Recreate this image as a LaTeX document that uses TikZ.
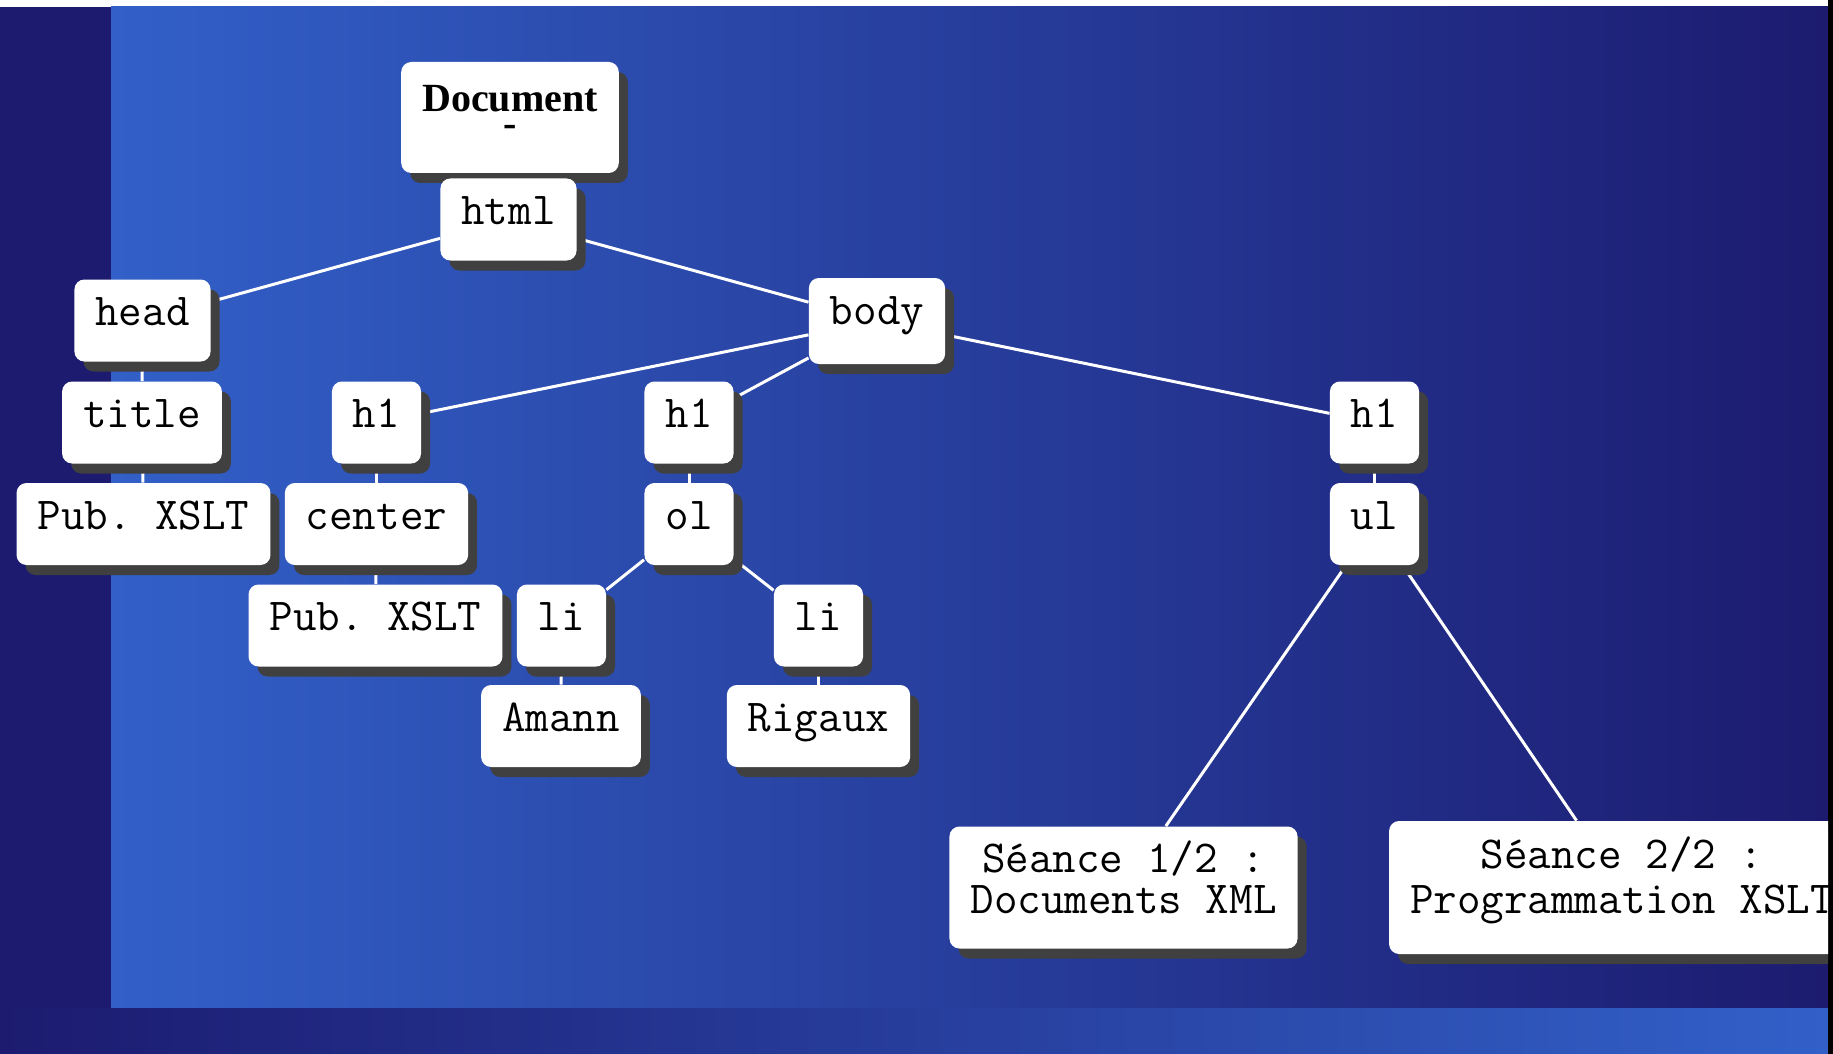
\documentclass[tikz,border=0pt]{standalone}
\usepackage{fontspec}
\newfontfamily\docfont{Liberation Serif}
\usetikzlibrary{shadows}

\definecolor{slideblue}{RGB}{50,96,200}
\definecolor{slidenavy}{RGB}{28,27,112}
\definecolor{shadowgray}{RGB}{64,64,64}

\pgfdeclarelayer{panel}
\pgfdeclarelayer{wires}
\pgfsetlayers{panel,wires,main}

\newcommand{\tagfont}{\ttfamily\fontsize{22.86pt}{21pt}\selectfont\frenchspacing}

\tikzset{
  tag/.style={fill=white, rounded corners=5pt, inner xsep=10.5pt, inner ysep=5pt,
    text height=18pt, text depth=13pt, font=\tagfont,
    drop shadow={shadow xshift=4.5pt, shadow yshift=-5pt, fill=shadowgray, opacity=1}},
  wire/.style={draw=white, line width=1.5pt}
}

\begin{document}
\begin{tikzpicture}[x=0.5pt,y=-0.5pt]

  \useasboundingbox (0,0) rectangle (1833,1054);

  % Vertical positions of the tree levels
  \pgfmathsetmacro{\rowone}{422.5}
  \pgfmathsetmacro{\rowtwo}{524}
  \pgfmathsetmacro{\rowthree}{625.5}
  \pgfmathsetmacro{\rowfour}{726}

  %%%%%%%%%%%%%%%%%%%%%%%%%%%%%%%%%%%%%%%%%%%%%%%%%%%%%%%%%%%%%%%%%%%%%%%%%%%%5
  %% Slide background
  %%%%%%%%%%%%%%%%%%%%%%%%%%%%%%%%%%%%%%%%%%%%%%%%%%%%%%%%%%%%%%%%%%%%%%%%%%%%5

  \begin{pgfonlayer}{panel}
    \fill [slidenavy] (0,0) rectangle (1833,1054);
    \fill [white] (0,0) rectangle (1833,7);
    \shade [left color=slideblue, right color=slidenavy] (111,7) rectangle (1828,1008);
    \shade [left color=slidenavy, right color=slideblue] (0,1008) rectangle (1828,1054);
    \fill [black] (1828,0) rectangle (1833,1054);
  \end{pgfonlayer}

  %%%%%%%%%%%%%%%%%%%%%%%%%%%%%%%%%%%%%%%%%%%%%%%%%%%%%%%%%%%%%%%%%%%%%%%%%%%%5
  %% The tree nodes
  %%%%%%%%%%%%%%%%%%%%%%%%%%%%%%%%%%%%%%%%%%%%%%%%%%%%%%%%%%%%%%%%%%%%%%%%%%%%5

  \begin{scope}
    \clip (0,0) rectangle (1828,1054);

    % Root and first level
    \node [tag, align=center, text height=32.5pt, text depth=13pt,
           font={\docfont\bfseries\fontsize{20pt}{12.5pt}\selectfont}]
          (doc) at (510,117.5) {Document\\-};
    \node [tag] (html) at (508.5,219.5) {html};
    \node [tag] (head) at (142.5,320.5) {head};
    \node [tag, text depth=15pt] (body) at (877,321) {body};

    % h1 level
    \node [tag] (title) at (142,\rowone)   {title};
    \node [tag] (hone)  at (376.5,\rowone) {h1};
    \node [tag] (htwo)  at (689,\rowone)   {h1};
    \node [tag] (hthree) at (1374.5,\rowone) {h1};

    % Contents of the headings
    \node [tag] (pubone) at (143.5,\rowtwo) {Pub. XSLT};
    \node [tag] (center) at (376.5,\rowtwo) {center};
    \node [tag] (ol)     at (689,\rowtwo)   {ol};
    \node [tag] (ul)     at (1374.5,\rowtwo) {ul};

    % List items
    \node [tag] (pubtwo) at (375.5,\rowthree) {Pub. XSLT};
    \node [tag] (lione)  at (561.5,\rowthree) {li};
    \node [tag] (litwo)  at (818.5,\rowthree) {li};

    \node [tag] (amann)  at (561,\rowfour)   {Amann};
    \node [tag] (rigaux) at (818.5,\rowfour) {Rigaux};

    % The two sessions
    \node [tag, align=center, text height=38.5pt, text depth=12.5pt,
           font={\ttfamily\fontsize{22.86pt}{20.5pt}\selectfont}]
          (seanceone) at (1123.5,887.5) {Séance 1/2 :\\Documents XML};
    \node [tag, align=center, text height=41pt, text depth=15.5pt,
           font={\ttfamily\fontsize{22.86pt}{22.5pt}\selectfont}]
          (seancetwo) at (1622,887.5) {Séance 2/2 :\\Programmation XSLT};
  \end{scope}

  %%%%%%%%%%%%%%%%%%%%%%%%%%%%%%%%%%%%%%%%%%%%%%%%%%%%%%%%%%%%%%%%%%%%%%%%%%%%5
  %% Parent-child links, behind the boxes
  %%%%%%%%%%%%%%%%%%%%%%%%%%%%%%%%%%%%%%%%%%%%%%%%%%%%%%%%%%%%%%%%%%%%%%%%%%%%5

  \begin{pgfonlayer}{wires}
    \foreach \parent/\child in {html/head, html/body, head/title, title/pubone,
        body/hone, body/htwo, body/hthree, hone/center, center/pubtwo,
        htwo/ol, ol/lione, ol/litwo, lione/amann, litwo/rigaux,
        hthree/ul, ul/seanceone, ul/seancetwo}
      \draw [wire] (\parent) -- (\child);
  \end{pgfonlayer}

\end{tikzpicture}
\end{document}
